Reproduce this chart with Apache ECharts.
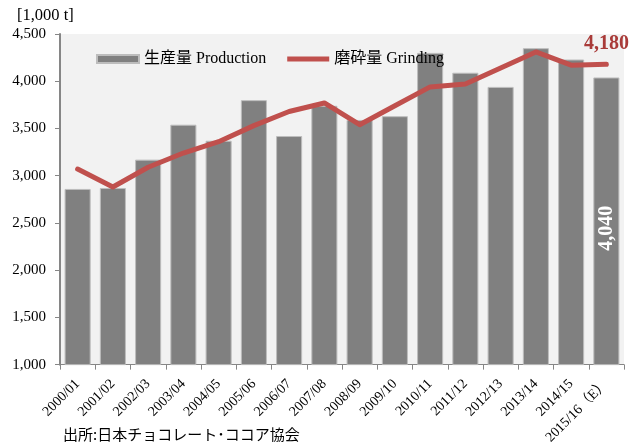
<!DOCTYPE html>
<html>
<head>
<meta charset="utf-8">
<script src="https://cdn.jsdelivr.net/npm/echarts@6/dist/echarts.min.js"></script>
<style>
html,body{margin:0;padding:0;background:#fff;}
#main{width:632px;height:447px;}
</style>
</head>
<body>
<div id="main"></div>
<script>
const categories = ['2000/01','2001/02','2002/03','2003/04','2004/05','2005/06','2006/07','2007/08','2008/09','2009/10','2010/11','2011/12','2012/13','2013/14','2014/15','2015/16（E）'];
const production = [2860, 2870, 3170, 3540, 3370, 3800, 3420, 3740, 3590, 3630, 4300, 4090, 3940, 4350, 4230, 4040];
const grinding = [3070, 2880, 3090, 3240, 3360, 3530, 3680, 3770, 3540, 3740, 3940, 3970, 4140, 4310, 4170, 4180];
const yTicks = {min: 1000, max: 4500, interval: 500};
const unitLabel = '[1,000 t]';
const sourceText = '出所:日本チョコレート･ココア協会';
const seriesNames = ['生産量 Production', '磨砕量 Grinding'];

const SERIF = "'Liberation Serif', 'Times New Roman', 'Noto Sans CJK JP', serif";
const fmt = v => String(v).replace(/\B(?=(\d{3})+(?!\d))/g, ',');
const last = categories.length - 1;

const chart = echarts.init(document.getElementById('main'), null, {renderer: 'canvas'});
chart.setOption({
  animation: false,
  backgroundColor: '#ffffff',
  grid: {left: 60, right: 8, top: 34, bottom: 82, show: true, backgroundColor: '#f2f2f2', borderWidth: 0},
  legend: {
    left: 91, top: 46,
    itemWidth: 42, itemHeight: 8, itemGap: 21,
    textStyle: {fontFamily: SERIF, fontSize: 16, color: '#000'},
    data: [
      {name: seriesNames[0], icon: 'rect'},
      {name: seriesNames[1], icon: 'path://M0,0 L42,0 L42,5 L0,5 Z', itemStyle: {color: '#c0504d'}}
    ]
  },
  xAxis: {
    type: 'category',
    data: categories,
    boundaryGap: true,
    axisLine: {show: true, lineStyle: {color: '#868686', width: 1}},
    axisTick: {show: true, length: 5, lineStyle: {color: '#868686'}},
    axisLabel: {interval: 0, rotate: 45, margin: 17, fontFamily: SERIF, fontSize: 14, color: '#000'},
    splitLine: {show: false}
  },
  yAxis: {
    type: 'value',
    min: yTicks.min, max: yTicks.max, interval: yTicks.interval,
    axisLine: {show: true, lineStyle: {color: '#868686', width: 2}},
    axisTick: {show: true, length: 5, lineStyle: {color: '#868686'}},
    axisLabel: {formatter: v => fmt(v), fontFamily: SERIF, fontSize: 15, color: '#000', margin: 14},
    splitLine: {show: false}
  },
  series: [
    {
      name: seriesNames[0],
      type: 'bar',
      barWidth: '74%',
      itemStyle: {color: '#808080', borderColor: '#bdbdbd', borderWidth: 1},
      data: production.map((v, i) => i === last ? {
        value: v,
        label: {show: true, position: 'inside', rotate: 90, offset: [-7, 0], formatter: p => fmt(p.value),
          fontFamily: SERIF, fontSize: 20, fontWeight: 'bold', color: '#ffffff'}
      } : v),
      z: 2
    },
    {
      name: seriesNames[1],
      type: 'line',
      symbol: 'none',
      lineStyle: {color: '#c0504d', width: 5, cap: 'round', join: 'round'},
      itemStyle: {color: '#c0504d'},
      data: grinding,
      markPoint: {
        symbol: 'circle', symbolSize: 0,
        label: {show: true, position: 'top', distance: 10, formatter: p => fmt(p.value),
          fontFamily: SERIF, fontSize: 20, fontWeight: 'bold', color: '#a93b39'},
        data: [{coord: [last, grinding[last]], value: grinding[last]}]
      },
      z: 3
    }
  ],
  graphic: [
    {type: 'text', left: 17, top: 7, style: {text: unitLabel, font: "16.5px " + SERIF, fill: '#000'}},
    {type: 'text', left: 63, top: 427, style: {text: sourceText, font: "15px 'Noto Sans CJK JP', sans-serif", fill: '#000'}}
  ]
});
</script>
</body>
</html>
